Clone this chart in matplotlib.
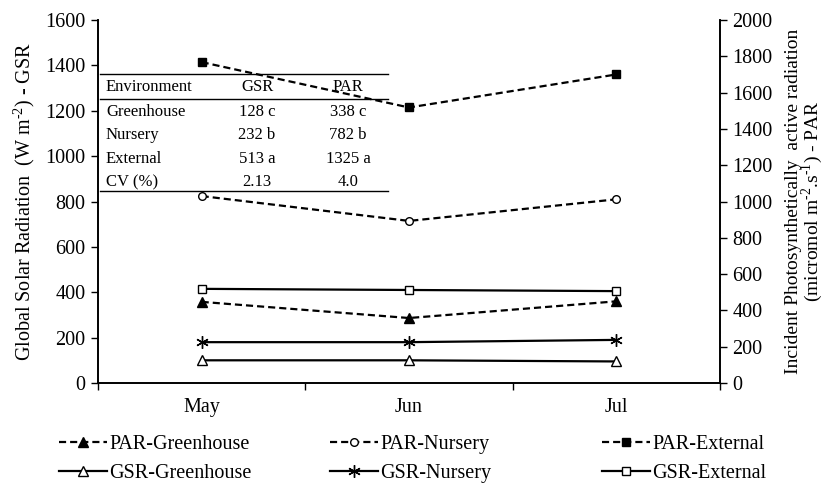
import numpy as np
import matplotlib.pyplot as plt
from matplotlib.lines import Line2D

plt.rcParams['font.family'] = ['Liberation Serif', 'DejaVu Serif']
plt.rcParams['mathtext.fontset'] = 'custom'
plt.rcParams['mathtext.rm'] = 'Liberation Serif'

months = ['May', 'Jun', 'Jul']

# incident PAR (micromol m-2 s-1), secondary axis
par_greenhouse = [447, 358, 450]
par_nursery = [1030, 893, 1012]
par_external = [1768, 1518, 1700]

# global solar radiation (W m-2), primary axis
gsr_greenhouse = [100, 100, 95]
gsr_nursery = [180, 180, 190]
gsr_external = [415, 410, 405]

# summary table of means
env_names = ['Greenhouse', 'Nursery', 'External', 'CV (%)']
gsr_means = ['128 c', '232 b', '513 a', '2.13']
par_means = ['338 c', '782 b', '1325 a', '4.0']

fig = plt.figure(figsize=(8.27, 4.94), dpi=100)
ax = fig.add_axes([0.1185, 0.2247, 0.7521, 0.7348])
ax2 = ax.twinx()

x = np.arange(1, len(months) + 1)
dash = (3.2, 1.8)
fs = 14.5
fs_tab = 12

l_gg, = ax.plot(x, gsr_greenhouse, '-', color='black', lw=1.6, marker='^',
                mfc='white', mec='black', ms=6.5, label='GSR-Greenhouse')
l_gn, = ax.plot(x, gsr_nursery, '-', color='black', lw=1.6, marker=(6, 2, 0),
                mec='black', ms=9, mew=1.0, label='GSR-Nursery')
l_ge, = ax.plot(x, gsr_external, '-', color='black', lw=1.6, marker='s',
                mfc='white', mec='black', ms=6, label='GSR-External')

l_pg, = ax2.plot(x, par_greenhouse, '--', dashes=dash, color='black', lw=1.6,
                 marker='^', mfc='black', mec='black', ms=6.5, label='PAR-Greenhouse')
l_pn, = ax2.plot(x, par_nursery, '--', dashes=dash, color='black', lw=1.6,
                 marker='o', mfc='white', mec='black', ms=5.5, label='PAR-Nursery')
l_pe, = ax2.plot(x, par_external, '--', dashes=dash, color='black', lw=1.6,
                 marker='s', mfc='black', mec='black', ms=6, label='PAR-External')

ax.set_xlim(0.5, 3.5)
ax.set_ylim(0, 1600)
ax2.set_ylim(0, 2000)
ax.set_yticks(np.arange(0, 1601, 200))
ax2.set_yticks(np.arange(0, 2001, 200))

# category boundaries get tick marks, names sit between them
ax.set_xticks([0.5, 1.5, 2.5, 3.5])
ax.set_xticklabels([])
ax.set_xticks(x, minor=True)
ax.set_xticklabels(months, minor=True, fontsize=fs)
ax.tick_params(axis='x', which='major', direction='out', length=5, width=1)
ax.tick_params(axis='x', which='minor', length=0, pad=11)
ax.tick_params(axis='y', direction='out', length=5, width=1, labelsize=fs, pad=4)
ax2.tick_params(axis='y', direction='out', length=5, width=1, labelsize=fs, pad=4)

for a in (ax, ax2):
    a.spines['top'].set_visible(False)
    for s in ('left', 'right', 'bottom'):
        a.spines[s].set_linewidth(1.2)

ax.set_ylabel(r'Global Solar Radiation  (W m$^{\text{-2}}$) - GSR', fontsize=fs,
              labelpad=6)
ax2.set_ylabel('Incident Photosynthetically  active radiation\n'
               r'(micromol m$^{\text{-2}}$.s$^{\text{-1}}$) - PAR', fontsize=14,
               labelpad=9, linespacing=0.85)

# mean table drawn inside the plot area
def fx(px):
    return px / 827

def fy(py):
    return 1 - py / 494

tx0, tx1 = fx(100), fx(388)
for py in (74, 99, 191):
    fig.add_artist(Line2D([tx0, tx1], [fy(py), fy(py)], color='black', lw=1.0))
col_env, col_gsr, col_par = fx(106), fx(257), fx(348)
fig.text(col_env, fy(87), 'Environment', fontsize=fs_tab, va='center')
fig.text(col_gsr, fy(87), 'GSR', fontsize=fs_tab, va='center', ha='center')
fig.text(col_par, fy(87), 'PAR', fontsize=fs_tab, va='center', ha='center')
row_y = [112, 135, 159, 182]
for i, name in enumerate(env_names):
    fig.text(col_env, fy(row_y[i]), name, fontsize=fs_tab, va='center')
    fig.text(col_gsr, fy(row_y[i]), gsr_means[i], fontsize=fs_tab, va='center', ha='center')
    fig.text(col_par, fy(row_y[i]), par_means[i], fontsize=fs_tab, va='center', ha='center')

# legend: one block per environment, PAR above GSR
groups = [(l_pg, l_gg, 59), (l_pn, l_gn, 330), (l_pe, l_ge, 602)]
for par_line, gsr_line, left in groups:
    fig.legend(handles=[par_line, gsr_line], loc='upper left',
               bbox_to_anchor=(fx(left), fy(435)), frameon=False, fontsize=fs,
               handlelength=2.4, handletextpad=0.1, numpoints=1,
               labelspacing=0.5, borderaxespad=0, borderpad=0)

fig.savefig('out.png', dpi=100)
